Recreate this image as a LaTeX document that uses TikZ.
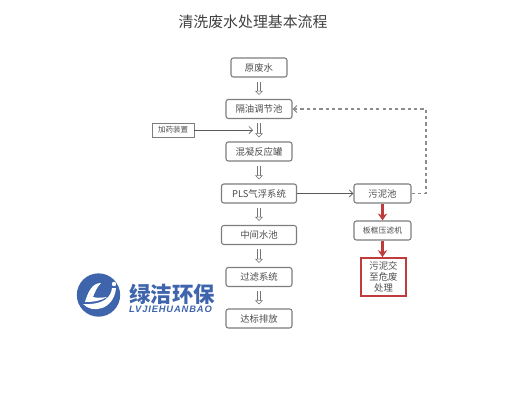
\documentclass[tikz,border=0pt]{standalone}
\usepackage{fontspec}
\setmainfont{Noto Sans CJK SC}
\newfontfamily\latinfont[LetterSpace=9]{Liberation Sans}
\usetikzlibrary{arrows.meta}
\definecolor{boxline}{RGB}{125,125,125}
\definecolor{logoblue}{RGB}{62,100,172}
\definecolor{redline}{RGB}{192,60,60}
\begin{document}
\begin{tikzpicture}[x=0.03cm, y=-0.03cm, auto]
    % Styles
    \tikzstyle{block} = [rectangle, draw=boxline, line width=0.9pt, rounded corners=2pt, align=center, inner sep=0pt, minimum height=0.57cm, font=\fontsize{8}{9.5}\selectfont, text=black!70]
    \tikzstyle{narrow} = [block, minimum width=1.98cm]
    \tikzstyle{wide} = [block, minimum width=2.25cm]
    \tikzstyle{side} = [block, minimum width=1.71cm]
    \tikzstyle{flow} = [draw=black!55, double=white, double distance=2pt, line width=0.5pt, shorten >=0.12cm, shorten <=0.12cm, -{Triangle[open, fill=white, length=3.5pt, width=6.5pt]}]
    \tikzstyle{arrow} = [draw=black!65, line width=0.6pt, ->, >={Straight Barb[length=3pt, width=6pt]}]
    \tikzstyle{back} = [draw=black!45, line width=0.9pt, dash pattern=on 2.8pt off 2.6pt, ->, >={Straight Barb[length=3pt, width=6pt]}]
    \tikzstyle{redarrow} = [draw=redline, line width=1.8pt, ->, >={Stealth[length=6pt, width=8pt]}]
    \useasboundingbox (0,0) rectangle (515,408);

    % Nodes
    \node [font=\fontsize{12.7}{16}\selectfont, text=black!75, inner sep=0pt] (title) at (253,22) {清洗废水处理基本流程};
    \node [block, minimum width=1.68cm] (raw) at (259,67.5) {原废水};
    \node [narrow] (oil) at (259,109) {隔油调节池};
    \node [narrow] (mix) at (259,151.5) {混凝反应罐};
    \node [wide] (pls) at (259,193.5) {PLS气浮系统};
    \node [wide] (mid) at (259,235) {中间水池};
    \node [narrow] (filter) at (259,277) {过滤系统};
    \node [narrow] (out) at (259,318.5) {达标排放};
    \node [block, line width=0.7pt, minimum width=1.26cm, minimum height=0.42cm, rounded corners=0pt, font=\fontsize{6.4}{8}\selectfont] (dose) at (173,130) {加药装置};
    \node [side] (sludge) at (382.5,193.5) {污泥池};
    \node [side, font=\fontsize{6.7}{8}\selectfont] (press) at (382.5,230.5) {板框压滤机};
    \node [block, draw=redline, line width=1.4pt, rounded corners=0pt, minimum width=1.35cm, minimum height=1.14cm] (waste) at (383.5,277) {污泥交\\至危废\\处理};
    \coordinate (dosein) at (253,130);
    \coordinate (corner) at (426,193.5);
    \coordinate (corner2) at (426,109);

    % Arrows
    \draw [flow] (raw) -- (oil);
    \draw [flow] (oil) -- (mix);
    \draw [flow] (mix) -- (pls);
    \draw [flow] (pls) -- (mid);
    \draw [flow] (mid) -- (filter);
    \draw [flow] (filter) -- (out);
    \draw [arrow] (dose) -- (dosein);
    \draw [arrow] (pls) -- (sludge);
    \draw [back] (sludge) -- (corner) -- (corner2) -- (oil);
    \draw [redarrow] (sludge.south) -- (press.north);
    \draw [redarrow] (press.south) -- (press.south |- waste.north);

    % Logo
    \node [circle, fill=logoblue, minimum size=1.3cm, inner sep=0pt] (logo) at (98.5,295) {};
    \fill [white] (101,283) .. controls (92,283) and (88,292) .. (85,302) .. controls (93,302) and (101,301) .. (107,297) .. controls (101,298) and (96,298) .. (93,297) .. controls (95,292) and (97,287) .. (101,283);
    \fill [white] (112,288) .. controls (111,297) and (104,305) .. (83,304) .. controls (92,314) and (114,310) .. (116,288) -- cycle;
    \fill [white] (114,284) circle (2.2);
    \node [font=\fontsize{18.3}{20}\bfseries\selectfont, text=logoblue, inner sep=0pt] (brand) at (172,294.5) {绿洁环保};
    \node [font=\fontsize{8}{9}\latinfont\bfseries\itshape\selectfont, text=logoblue, inner sep=0pt] (brandlatin) at (170.5,309.5) {LVJIEHUANBAO};
\end{tikzpicture}
\end{document}
